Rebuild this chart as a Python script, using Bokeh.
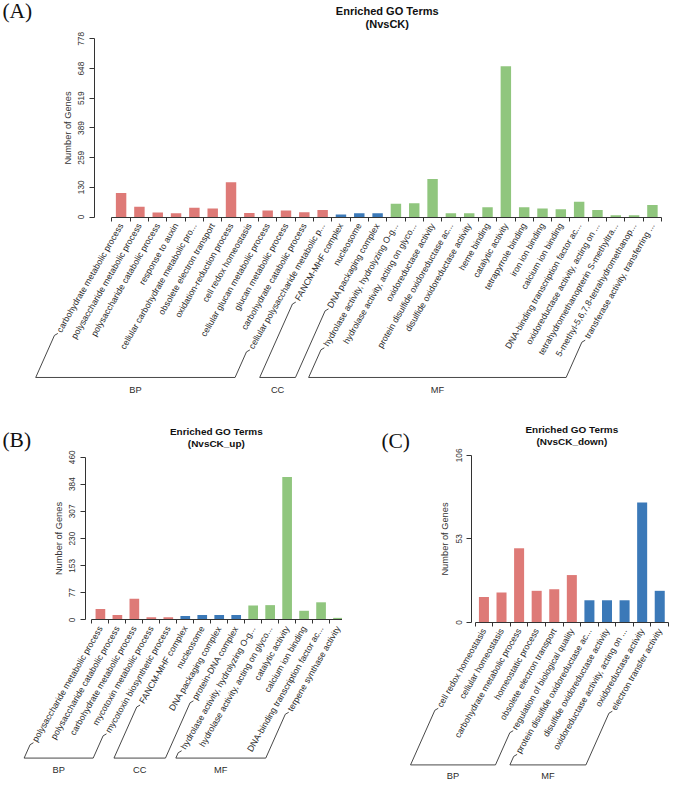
import math
from bokeh.plotting import figure
from bokeh.models import Range1d, LinearAxis, FixedTicker, CustomJSTickFormatter
from bokeh.layouts import column, row
from bokeh.core.properties import value
from bokeh.embed import file_html
from bokeh.resources import INLINE

# ---------------- data ----------------
A_BP_TERMS = ["carbohydrate metabolic process", "polysaccharide metabolic process",
              "polysaccharide catabolic process", "response to auxin",
              "cellular carbohydrate metabolic pro...", "obsolete electron transport",
              "oxidation-reduction process", "cell redox homeostasis",
              "cellular glucan metabolic process", "glucan metabolic process",
              "carbohydrate catabolic process", "cellular polysaccharide metabolic p..."]
A_BP_VALUES = [105, 45, 20, 16, 40, 37, 152, 18, 28, 28, 21, 31]
A_CC_TERMS = ["FANCM-MHF complex", "nucleosome", "DNA packaging complex"]
A_CC_VALUES = [11, 16, 16]
A_MF_TERMS = ["hydrolase activity, hydrolyzing O-g...", "hydrolase activity, acting on glyco...",
              "oxidoreductase activity", "protein disulfide oxidoreductase ac...",
              "disulfide oxidoreductase activity", "heme binding", "catalytic activity",
              "tetrapyrrole binding", "iron ion binding", "calcium ion binding",
              "DNA-binding transcription factor ac...", "oxidoreductase activity, acting on ...",
              "tetrahydromethanopterin S-methyltra...", "5-methyl-5,6,7,8-tetrahydromethanop...",
              "transferase activity, transferring ..."]
A_MF_VALUES = [58, 60, 166, 16, 16, 43, 659, 43, 37, 34, 67, 31, 8, 8, 53]
A_YTICKS = [0, 130, 259, 389, 519, 648, 778]

B_BP_TERMS = ["polysaccharide metabolic process", "polysaccharide catabolic process",
              "carbohydrate metabolic process", "mycotoxin metabolic process",
              "mycotoxin biosynthetic process"]
B_BP_VALUES = [31, 14, 60, 8, 8]
B_CC_TERMS = ["FANCM-MHF complex", "nucleosome", "DNA packaging complex", "protein-DNA complex"]
B_CC_VALUES = [11, 14, 14, 14]
B_MF_TERMS = ["hydrolase activity, hydrolyzing O-g...", "hydrolase activity, acting on glyco...",
              "catalytic activity", "calcium ion binding",
              "DNA-binding transcription factor ac...", "terpene synthase activity"]
B_MF_VALUES = [41, 42, 404, 26, 50, 6]
B_YTICKS = [0, 77, 153, 230, 307, 384, 460]

C_BP_TERMS = ["cell redox homeostasis", "cellular homeostasis", "carbohydrate metabolic process",
              "homeostatic process", "obsolete electron transport",
              "regulation of biological quality"]
C_BP_VALUES = [16, 19, 47, 20, 21, 30]
C_MF_TERMS = ["protein disulfide oxidoreductase ac...", "disulfide oxidoreductase activity",
              "oxidoreductase activity, acting on ...", "oxidoreductase activity",
              "electron transfer activity"]
C_MF_VALUES = [14, 14, 14, 76, 20]
C_YTICKS = [0, 53, 106]

# ---------------- style ----------------
RED, BLUE, GREEN = "#DE7A77", "#3B79B8", "#90C67E"
S = 669 / 685.0
SANS = "Liberation Sans"
SERIF = "Liberation Serif"
INK = "#333333"

AW = {' ': 278, '!': 278, '"': 355, '#': 556, '$': 556, '%': 889, '&': 667, "'": 191,
      '(': 333, ')': 333, '*': 389, '+': 584, ',': 278, '-': 333, '.': 278, '/': 278,
      ':': 278, ';': 278, '?': 556, '_': 556}
for ch in "0123456789":
    AW[ch] = 556
AW.update(dict(zip("ABCDEFGHIJKLMNOPQRSTUVWXYZ",
                   [667, 667, 722, 722, 667, 611, 778, 722, 278, 500, 667, 556, 833, 722, 778,
                    667, 778, 722, 667, 611, 722, 667, 944, 667, 667, 611])))
AW.update(dict(zip("abcdefghijklmnopqrstuvwxyz",
                   [556, 556, 500, 556, 556, 278, 556, 556, 222, 222, 500, 222, 833, 556, 556,
                    556, 556, 333, 500, 278, 556, 500, 722, 500, 500, 500])))


def tw(text, fs):
    return sum(AW.get(c, 556) for c in text) / 1000.0 * fs


def make_panel(groups, yticks, subtitle, letter, geo, W, H, title_fs):
    ymax = yticks[-1]
    k = (geo['base'] - geo['top']) / ymax
    pitch, b0 = geo['pitch'], geo['b0']

    def X(px):
        return (px - b0) / pitch

    def Y(py):
        return (geo['base'] - py) / k

    p = figure(width=W, height=H,
               x_range=Range1d(X(geo['x0']), X(geo['x0'] + W / S)),
               y_range=Range1d(Y(geo['y0'] + H / S), Y(geo['y0'])),
               x_axis_type=None, y_axis_type=None, min_border=0,
               toolbar_location=None, output_backend="svg",
               outline_line_color=None, background_fill_color="white",
               border_fill_color="white")

    terms, vals, cols, ranges = [], [], [], []
    for name, t, v, c in groups:
        ranges.append((len(terms), len(terms) + len(t) - 1, name))
        terms += t
        vals += v
        cols += [c] * len(t)
    n = len(terms)
    xs = [i + 0.5 for i in range(n)]

    p.vbar(x=xs, top=vals, bottom=0, width=0.57, fill_color=cols, line_color=None)

    ya = LinearAxis(fixed_location=X(geo['axis']), bounds=(0, ymax),
                    ticker=FixedTicker(ticks=yticks, minor_ticks=[]),
                    axis_label="Number of Genes")
    ya.major_label_orientation = "vertical"
    ya.axis_line_color = INK
    ya.major_tick_line_color = INK
    ya.minor_tick_line_color = None
    ya.major_tick_out = 5
    ya.major_tick_in = 0
    ya.major_label_standoff = 5
    ya.major_label_text_font = SANS
    ya.major_label_text_font_size = f"{8.5 * S:.2f}px"
    ya.major_label_text_color = INK
    ya.axis_label_text_font = SANS
    ya.axis_label_text_font_style = "normal"
    ya.axis_label_text_font_size = f"{9.5 * S:.2f}px"
    ya.axis_label_text_color = INK
    ya.axis_label_standoff = 3
    p.add_layout(ya, "left")

    xa = LinearAxis(fixed_location=0, bounds=(0, n),
                    ticker=FixedTicker(ticks=list(range(n + 1)), minor_ticks=[]),
                    formatter=CustomJSTickFormatter(code="return ''"))
    xa.axis_line_color = INK
    xa.major_tick_line_color = INK
    xa.minor_tick_line_color = None
    xa.major_tick_out = 4
    xa.major_tick_in = 0
    xa.major_label_text_font_size = "1px"
    p.add_layout(xa, "below")

    lab_fs = 9.0
    ay = geo['base'] + 7
    p.text(x=xs, y=[Y(ay)] * n, text=terms, angle=math.pi / 3,
           text_align="right", text_baseline="middle",
           text_font=value(SANS), text_font_size=f"{lab_fs * S:.2f}px", text_color="#2b2b2b")

    c60, s60 = math.cos(math.pi / 3), math.sin(math.pi / 3)
    c30, s30 = math.cos(math.pi / 6), math.sin(math.pi / 6)
    tslant = math.tan(math.radians(66))

    def arm(i):
        axp = b0 + (i + 0.5) * pitch
        L = tw(terms[i], lab_fs) + 2
        sx, sy = axp - L * c60, ay + L * s60
        dx, dy = sx - 4 * c30, sy + 4 * s30
        bx = dx - (geo['brk'] - dy) / tslant
        return (sx, sy), (dx, dy), (bx, geo['brk'])

    for i0, i1, name in ranges:
        a, b = arm(i0), arm(i1)
        pts = [a[0], a[1], a[2], b[2], b[1], b[0]]
        p.line(x=[X(q[0]) for q in pts], y=[Y(q[1]) for q in pts],
               line_color=INK, line_width=0.9)
        p.text(x=[X((a[2][0] + b[2][0]) / 2)], y=[Y(geo['glab'])], text=[name],
               text_align="center", text_baseline="middle", text_font=value(SANS),
               text_font_size=f"{9.5 * S:.2f}px", text_color="#2b2b2b")

    p.text(x=[X(geo['tcx'])] * 2, y=[Y(geo['t1']), Y(geo['t2'])],
           text=["Enriched GO Terms", subtitle], text_align="center", text_baseline="middle",
           text_font=value(SANS), text_font_style="bold",
           text_font_size=f"{title_fs * S:.2f}px", text_color="#111111")

    p.text(x=[X(geo['lx'])], y=[Y(geo['ly'])], text=[letter], text_align="left",
           text_baseline="middle", text_font=value(SERIF),
           text_font_size=f"{22 * S:.2f}px", text_color="#111111")
    return p


WA, HA = 669, 402
WB, WC, HBC = 342, 327, 380

geoA = dict(x0=0, y0=0, axis=96, base=221.7, top=39.3, b0=114.1, pitch=18.76,
            tcx=396, t1=10.7, t2=24.5, lx=2, ly=11, brk=386, glab=399)
geoB = dict(x0=0, y0=HA / S, axis=87, base=634.3, top=467.7, b0=93.6, pitch=17.38,
            tcx=221, t1=441, t2=453.5, lx=2, ly=449.5, brk=775.7, glab=788.3)
geoC = dict(x0=WB / S, y0=HA / S, axis=482.7, base=636.7, top=465.7, b0=486, pitch=18.0,
            tcx=585, t1=439, t2=452, lx=390, ly=451, brk=782.7, glab=794)

pA = make_panel([("BP", A_BP_TERMS, A_BP_VALUES, RED),
                 ("CC", A_CC_TERMS, A_CC_VALUES, BLUE),
                 ("MF", A_MF_TERMS, A_MF_VALUES, GREEN)],
                A_YTICKS, "(NvsCK)", "(A)", geoA, WA, HA, 11.3)
pB = make_panel([("BP", B_BP_TERMS, B_BP_VALUES, RED),
                 ("CC", B_CC_TERMS, B_CC_VALUES, BLUE),
                 ("MF", B_MF_TERMS, B_MF_VALUES, GREEN)],
                B_YTICKS, "(NvsCK_up)", "(B)", geoB, WB, HBC, 10.2)
pC = make_panel([("BP", C_BP_TERMS, C_BP_VALUES, RED),
                 ("MF", C_MF_TERMS, C_MF_VALUES, BLUE)],
                C_YTICKS, "(NvsCK_down)", "(C)", geoC, WC, HBC, 10.2)

layout = column(pA, row(pB, pC, spacing=0), spacing=0)
open("out.html", "w").write(file_html(layout, INLINE))
